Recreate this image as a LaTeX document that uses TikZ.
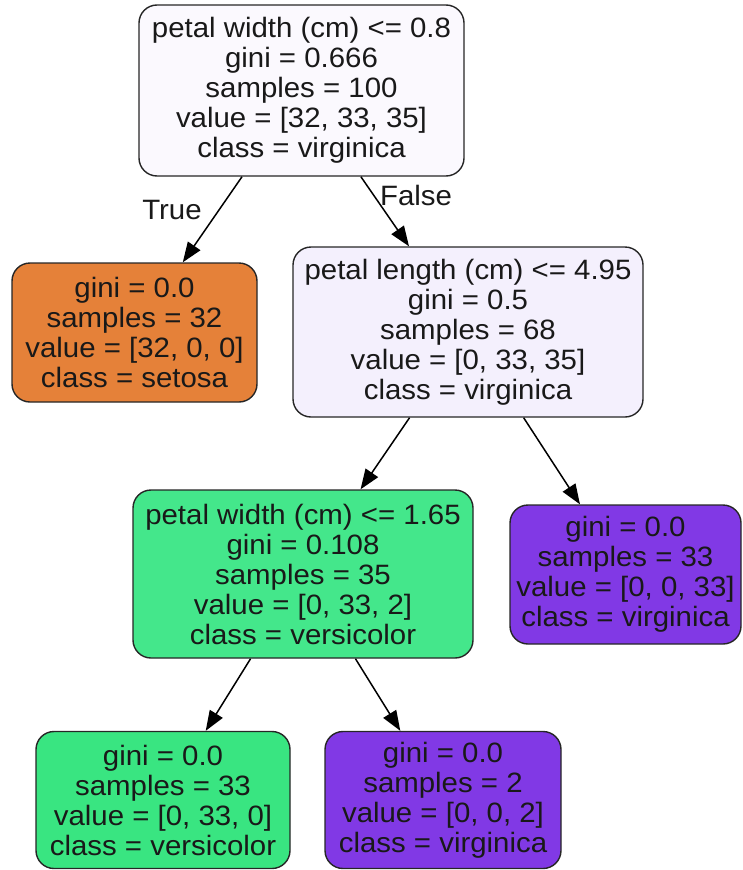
\documentclass[tikz,border=0pt]{standalone}
\usepackage{fontspec}
\setmainfont{Liberation Sans}[FakeStretch=1.05]
\usetikzlibrary{arrows.meta}
\definecolor{rootfill}{HTML}{FBF9FE}
\definecolor{plfill}{HTML}{F4F0FD}
\definecolor{orangefill}{HTML}{E58139}
\definecolor{greenfill}{HTML}{44E78B}
\definecolor{greenleaf}{HTML}{39E581}
\definecolor{purplefill}{HTML}{8139E5}
\begin{document}
\begin{tikzpicture}[x=1pt,y=-1pt,
  box/.style={draw=black!85, line width=1.4pt, rounded corners=18pt, align=center,
              font=\fontsize{28}{30}\selectfont, inner sep=0pt, text=black!90},
  edge/.style={line width=1.5pt, draw=black, -{Triangle[length=20pt,width=15pt]}},
  lbl/.style={font=\fontsize{28}{30}\selectfont, inner sep=0pt, text=black!90}]
\useasboundingbox (0,0) rectangle (742,870);

\node[box, fill=rootfill, minimum width=325pt, minimum height=171pt] (root) at (301.5,90.5)
  {petal width (cm) <= 0.8\\gini = 0.666\\samples = 100\\value = [32, 33, 35]\\class = virginica};
\node[box, fill=orangefill, minimum width=245pt, minimum height=139pt] (setosa) at (134.5,332.5)
  {gini = 0.0\\samples = 32\\value = [32, 0, 0]\\class = setosa};
\node[box, fill=plfill, minimum width=350pt, minimum height=170pt] (pl) at (468,332)
  {petal length (cm) <= 4.95\\gini = 0.5\\samples = 68\\value = [0, 33, 35]\\class = virginica};
\node[box, fill=greenfill, minimum width=340pt, minimum height=168pt] (pw) at (303,574)
  {petal width (cm) <= 1.65\\gini = 0.108\\samples = 35\\value = [0, 33, 2]\\class = versicolor};
\node[box, fill=purplefill, minimum width=231pt, minimum height=139pt] (vthree) at (625.5,574.5)
  {gini = 0.0\\samples = 33\\value = [0, 0, 33]\\class = virginica};
\node[box, fill=greenleaf, minimum width=254pt, minimum height=137pt] (vers) at (163,800)
  {gini = 0.0\\samples = 33\\value = [0, 33, 0]\\class = versicolor};
\node[box, fill=purplefill, minimum width=236pt, minimum height=137pt] (vtwo) at (443,800)
  {gini = 0.0\\samples = 2\\value = [0, 0, 2]\\class = virginica};

\draw[edge] (root) -- (setosa);
\draw[edge] (root) -- (pl);
\draw[edge] (pl) -- (pw);
\draw[edge] (pl) -- (vthree);
\draw[edge] (pw) -- (vers);
\draw[edge] (pw) -- (vtwo);

\node[lbl] (ltrue) at (172,210) {True};
\node[lbl] (lfalse) at (416,195) {False};
\end{tikzpicture}
\end{document}
